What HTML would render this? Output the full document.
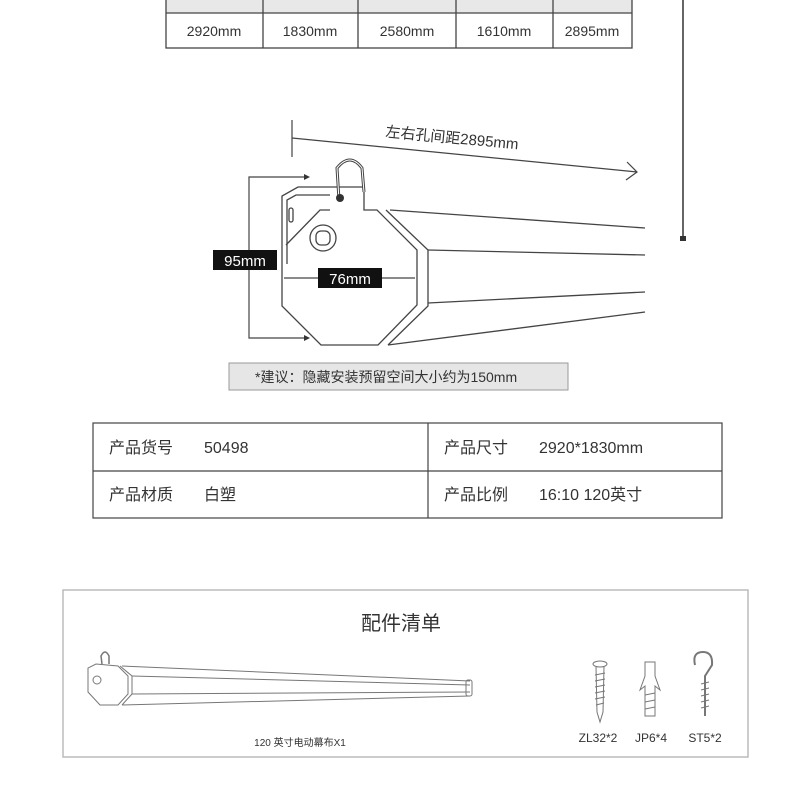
<!DOCTYPE html>
<html><head><meta charset="utf-8"><style>
html,body{margin:0;padding:0;background:#fff;}
svg{display:block;}
text{font-family:"Liberation Sans","Noto Sans CJK SC",sans-serif;fill:#333;}
</style></head><body>
<svg width="800" height="800" viewBox="0 0 800 800" xmlns="http://www.w3.org/2000/svg">
<!-- top table -->
<rect x="166" y="-2" width="466" height="15" fill="#e8e8e8"/>
<g stroke="#444" stroke-width="1.3" fill="none">
<rect x="166" y="-2" width="466" height="50"/>
<line x1="166" y1="13" x2="632" y2="13"/>
<line x1="263" y1="-2" x2="263" y2="48"/>
<line x1="358" y1="-2" x2="358" y2="48"/>
<line x1="456" y1="-2" x2="456" y2="48"/>
<line x1="553" y1="-2" x2="553" y2="48"/>
</g>
<g font-size="14" text-anchor="middle">
<text x="214" y="36">2920mm</text><text x="310" y="36">1830mm</text>
<text x="407" y="36">2580mm</text><text x="504" y="36">1610mm</text>
<text x="592" y="36">2895mm</text>
</g>
<line x1="683" y1="0" x2="683" y2="238" stroke="#333" stroke-width="1.5"/>
<rect x="680" y="236" width="6" height="5" fill="#333"/>

<!-- dimension -->
<g stroke="#444" stroke-width="1.2" fill="none">
<line x1="292" y1="120" x2="292" y2="157"/>
<line x1="292" y1="138" x2="637" y2="172"/>
<polyline points="627,162 637,172 626,180"/>
<polyline points="304,177 249,177 249,338 304,338"/>
<line x1="284" y1="278" x2="415" y2="278"/>
</g>
<polygon points="304,174 310,177 304,180" fill="#333"/>
<polygon points="304,335 310,338 304,341" fill="#333"/>
<text x="452" y="143" font-size="15" text-anchor="middle" transform="rotate(5.5 452 138)">左右孔间距2895mm</text>

<!-- body -->
<g stroke="#444" stroke-width="1.3" fill="none">
<polygon points="282,196 282,306 321,345 378,345 417,305 417,250 377,210 364,210 364,187 298,187"/>
<polyline points="287,264 287,200 296,195 330,195"/>
<polyline points="286,245 320,210 330,210"/>
<polyline points="386,210 428,250 428,306 388,345"/>
<line x1="390" y1="210" x2="645" y2="228"/>
<line x1="428" y1="250" x2="645" y2="255"/>
<line x1="428" y1="303" x2="645" y2="292"/>
<line x1="388" y1="345" x2="645" y2="312"/>
<path d="M339,200 L337,168 Q350,152 362,168 L364,192" stroke-width="3"/>
<path d="M339,200 L337,168 Q350,152 362,168 L364,192" stroke="#fff" stroke-width="1"/>
<circle cx="323" cy="238" r="13"/>
<rect x="316" y="231" width="14" height="14" rx="5"/>
<rect x="289" y="208" width="4" height="14" rx="2"/>
</g>
<circle cx="340" cy="198" r="4" fill="#333"/>
<rect x="213" y="250" width="64" height="20" fill="#111"/>
<text x="245" y="266" font-size="15" fill="#fff" text-anchor="middle" style="fill:#fff">95mm</text>
<rect x="318" y="268" width="64" height="20" fill="#111"/>
<text x="350" y="284" font-size="15" text-anchor="middle" style="fill:#fff">76mm</text>
<rect x="229" y="363" width="339" height="27" fill="#e6e6e6" stroke="#999"/>
<text x="255" y="382" font-size="14">*建议：隐藏安装预留空间大小约为150mm</text>

<!-- info table -->
<g stroke="#444" stroke-width="1.2" fill="none">
<rect x="93" y="423" width="629" height="95"/>
<line x1="93" y1="471" x2="722" y2="471"/>
<line x1="428" y1="423" x2="428" y2="518"/>
</g>
<g font-size="16">
<text x="109" y="453">产品货号</text><text x="204" y="453">50498</text>
<text x="109" y="500">产品材质</text><text x="204" y="500">白塑</text>
<text x="444" y="453">产品尺寸</text><text x="539" y="453">2920*1830mm</text>
<text x="444" y="500">产品比例</text><text x="539" y="500">16:10  120英寸</text>
</g>

<!-- accessory box -->
<rect x="63" y="590" width="685" height="167" fill="none" stroke="#bbb" stroke-width="1.5"/>
<text x="401" y="630" font-size="20" text-anchor="middle">配件清单</text>
<g stroke="#777" stroke-width="1" fill="none">
<polygon points="88,668 88,692 100,705 118,705 128,694 128,676 118,666 96,664"/>
<polyline points="120,666 132,676 132,694 122,705"/>
<line x1="122" y1="666" x2="470" y2="681"/>
<line x1="132" y1="676" x2="470" y2="685"/>
<line x1="132" y1="694" x2="470" y2="692"/>
<line x1="122" y1="705" x2="470" y2="696"/>
<rect x="466" y="680" width="6" height="16" rx="2"/>
<path d="M102,664 L101,656 Q105,648 109,656 L109,664" stroke-width="1.5"/>
<circle cx="97" cy="680" r="4"/>
<!-- screw -->
<ellipse cx="600" cy="664" rx="7" ry="3"/>
<path d="M596,667 L597,712 L600,722 L603,712 L604,667"/>
<path d="M595,675 L605,673 M595,681 L605,679 M595,687 L605,685 M595,693 L605,691 M595,699 L605,697 M596,705 L604,703"/>
<!-- anchor -->
<path d="M645,662 L655,662 L655,676 L660,690 L655,686 L655,716 L645,716 L645,686 L640,690 L645,676 Z"/>
<path d="M645,695 L655,693 M645,702 L655,700 M645,709 L655,707"/>
<!-- hook -->
<path d="M695,665 Q692,652 703,652 Q713,652 712,665 L705,676 L705,716" stroke-width="2"/>
<path d="M701,684 L709,682 M701,690 L709,688 M701,696 L709,694 M701,702 L709,700 M701,708 L709,706"/>
</g>
<text x="300" y="746" font-size="10" text-anchor="middle">120 英寸电动幕布X1</text>
<g font-size="12" text-anchor="middle" fill="#555">
<text x="598" y="742">ZL32*2</text>
<text x="651" y="742">JP6*4</text>
<text x="705" y="742">ST5*2</text>
</g>
</svg>
</body></html>
